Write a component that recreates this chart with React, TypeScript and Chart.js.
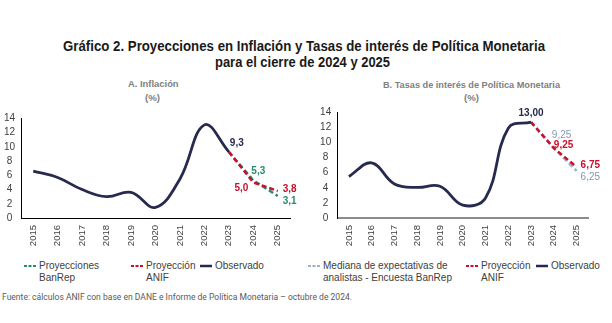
import React, { useEffect, useRef } from 'react';
import { Chart, registerables } from 'chart.js';

Chart.register(...registerables);

// ---------- data ----------
const years = ['2015', '2016', '2017', '2018', '2019', '2020', '2021', '2022', '2023', '2024', '2025'];

const inflObservado = [6.6, 5.7, 4.0, 3.0, 3.6, 1.5, 5.5, 13.1, 9.3, null, null];
const inflBanRep = [null, null, null, null, null, null, null, null, 9.3, 5.3, 3.1];
const inflAnif = [null, null, null, null, null, null, null, null, 9.3, 5.0, 3.8];

const tasaObservado = [5.5, 7.3, 4.5, 4.05, 4.2, 1.7, 2.65, 11.9, 12.7, null, null];
const tasaAnalistas = [null, null, null, null, null, null, null, null, 12.7, 9.25, 6.25];
const tasaAnif = [null, null, null, null, null, null, null, null, 12.7, 9.25, 6.75];
const tasaCierre2023 = 13.0;

const yTicks = [0, 2, 4, 6, 8, 10, 12, 14];

const titleLine1 = 'Gráfico 2. Proyecciones en Inflación y Tasas de interés de Política Monetaria';
const titleLine2 = 'para el cierre de 2024 y 2025';
const subA = 'A. Inflación';
const subB = 'B. Tasas de interés de Política Monetaria';
const unit = '(%)';
const fuente = 'Fuente: cálculos ANIF con base en DANE e Informe de Política Monetaria – octubre de 2024.';

// ---------- style ----------
const NAVY = '#262A4F';
const RED = '#C8102E';
const GREEN = '#2A8A70';
const GREYLINE = '#9DB0C8';
const GREYLBL = '#8497B0';
const FONT = '"Liberation Sans", Arial, sans-serif';

const fmt = (v: number, d: number) => v.toFixed(d).replace('.', ',');

type Lbl = { ds: number; idx: number; text: string; color: string; bold: boolean; align: CanvasTextAlign; dx: number; dy: number };

const labelPlugin = {
  id: 'pointLabels',
  afterDatasetsDraw(chart: any, _a: any, opts: any) {
    const items: Lbl[] = (opts && opts.items) || [];
    const ctx = chart.ctx;
    ctx.save();
    items.forEach((it) => {
      const el = chart.getDatasetMeta(it.ds).data[it.idx];
      if (!el) return;
      ctx.font = `${it.bold ? 'bold ' : ''}10px ${FONT}`;
      ctx.fillStyle = it.color;
      ctx.textAlign = it.align;
      ctx.textBaseline = 'middle';
      ctx.fillText(it.text, el.x + it.dx, el.y + it.dy);
    });
    ctx.restore();
  },
};

function measure(text: string, font: string) {
  const c = document.createElement('canvas').getContext('2d')!;
  c.font = font;
  return c.measureText(text).width;
}

function FitText(props: { text: string; left: number; top: number; width: number; size: number; bold?: boolean; color: string; family?: string }) {
  const family = props.family || FONT;
  const font = `${props.bold ? 'bold ' : ''}${props.size}px ${family}`;
  const w = measure(props.text, font);
  const s = props.width / w;
  return (
    <div
      style={{
        position: 'absolute',
        left: props.left,
        top: props.top,
        width: props.width,
        height: props.size * 1.3,
        lineHeight: `${props.size * 1.3}px`,
        whiteSpace: 'nowrap',
        font,
        color: props.color,
      }}
    >
      <span style={{ display: 'inline-block', width: w, transform: `scaleX(${s})`, transformOrigin: 'left center' }}>{props.text}</span>
    </div>
  );
}

function makeChart(
  canvas: HTMLCanvasElement,
  datasets: any[],
  labels: Lbl[],
  geom: { yw: number; pr: number; pt: number; xh: number; yPad: number },
  xBorder: { color: string; width: number }
) {
  return new Chart(canvas, {
    type: 'line',
    data: { labels: years, datasets },
    plugins: [labelPlugin as any],
    options: {
      animation: false,
      responsive: false,
      maintainAspectRatio: false,
      layout: { autoPadding: false, padding: { left: 0, right: geom.pr, top: geom.pt, bottom: 0 } } as any,
      plugins: { legend: { display: false }, tooltip: { enabled: false }, pointLabels: { items: labels } } as any,
      elements: { point: { radius: 0 } },
      scales: {
        x: {
          type: 'category',
          offset: true,
          grid: { display: false, drawTicks: false },
          border: { display: true, color: xBorder.color, width: xBorder.width },
          ticks: { autoSkip: false, minRotation: 90, maxRotation: 90, padding: 7, color: '#404040', font: { family: FONT, size: 9.5 } },
          afterFit: (s: any) => { s.height = geom.xh; },
        },
        y: {
          min: 0,
          max: 14,
          afterBuildTicks: (s: any) => { s.ticks = yTicks.map((v) => ({ value: v })); },
          grid: { display: false, drawTicks: false },
          border: { display: true, color: '#000', width: 1 },
          ticks: { autoSkip: false, crossAlign: 'center', padding: geom.yPad, color: '#404040', font: { family: FONT, size: 10 } },
          afterFit: (s: any) => { s.width = geom.yw; },
        },
      },
    } as any,
  });
}

function line(data: any[], color: string, dashed: boolean, order: number) {
  return {
    data,
    borderColor: color,
    borderWidth: dashed ? 2.5 : 2.8,
    borderDash: dashed ? [5, 3] : [],
    tension: dashed ? 0 : 0.4,
    spanGaps: false,
    fill: false,
    order,
  };
}

function Swatch({ color, dashed }: { color: string; dashed: boolean }) {
  return (
    <svg width={12} height={4} style={{ position: 'absolute', left: 0, top: 4 }}>
      <line x1={0} y1={2} x2={12} y2={2} stroke={color} strokeWidth={dashed ? 2 : 2.5} strokeDasharray={dashed ? '3 1.5' : undefined} />
    </svg>
  );
}

type LegendItem = { lines: string[]; color: string; dashed: boolean; x: number };

const legendA: LegendItem[] = [
  { lines: ['Proyecciones', 'BanRep'], color: GREEN, dashed: true, x: 24 },
  { lines: ['Proyección', 'ANIF'], color: RED, dashed: true, x: 131 },
  { lines: ['Observado'], color: NAVY, dashed: false, x: 200 },
];
const legendB: LegendItem[] = [
  { lines: ['Mediana de expectativas de', 'analistas - Encuesta BanRep'], color: GREYLINE, dashed: true, x: 308 },
  { lines: ['Proyección', 'ANIF'], color: RED, dashed: true, x: 466 },
  { lines: ['Observado'], color: NAVY, dashed: false, x: 536 },
];

function Legend({ items, top }: { items: LegendItem[]; top: number }) {
  return (
    <>
      {items.map((it, i) => (
        <div key={i} style={{ position: 'absolute', left: it.x, top, height: 26, whiteSpace: 'nowrap' }}>
          <Swatch color={it.color} dashed={it.dashed} />
          <div style={{ marginLeft: 15, font: `10px ${FONT}`, lineHeight: '12.5px', color: '#404040' }}>
            {it.lines.map((l, j) => (
              <div key={j}>{l}</div>
            ))}
          </div>
        </div>
      ))}
    </>
  );
}

export default function App() {
  const refA = useRef<HTMLCanvasElement>(null);
  const refB = useRef<HTMLCanvasElement>(null);

  useEffect(() => {
    const labelsA: Lbl[] = [
      { ds: 2, idx: 8, text: fmt(inflObservado[8] as number, 1), color: NAVY, bold: true, align: 'left', dx: 1, dy: -9 },
      { ds: 0, idx: 9, text: fmt(inflBanRep[9] as number, 1), color: GREEN, bold: true, align: 'left', dx: -2, dy: -9 },
      { ds: 1, idx: 9, text: fmt(inflAnif[9] as number, 1), color: RED, bold: true, align: 'right', dx: -5, dy: 5.5 },
      { ds: 1, idx: 10, text: fmt(inflAnif[10] as number, 1), color: RED, bold: true, align: 'left', dx: 5, dy: -1.5 },
      { ds: 0, idx: 10, text: fmt(inflBanRep[10] as number, 1), color: GREEN, bold: true, align: 'left', dx: 5, dy: 5 },
    ];
    const chartA = makeChart(
      refA.current!,
      [line(inflBanRep, GREEN, true, 2), line(inflAnif, RED, true, 1), line(inflObservado, NAVY, false, 0)],
      labelsA,
      { yw: 21, pr: 10, pt: 18.5, xh: 42, yPad: 6 },
      { color: '#000', width: 1 }
    );

    const labelsB: Lbl[] = [
      { ds: 2, idx: 8, text: fmt(tasaCierre2023, 2), color: NAVY, bold: true, align: 'center', dx: 0, dy: -8.5 },
      { ds: 0, idx: 9, text: fmt(tasaAnalistas[9] as number, 2), color: GREYLBL, bold: false, align: 'left', dx: -2, dy: -13.3 },
      { ds: 1, idx: 9, text: fmt(tasaAnif[9] as number, 2), color: RED, bold: true, align: 'left', dx: 0, dy: -3.3 },
      { ds: 1, idx: 10, text: fmt(tasaAnif[10] as number, 2), color: RED, bold: true, align: 'left', dx: 4, dy: -1.6 },
      { ds: 0, idx: 10, text: fmt(tasaAnalistas[10] as number, 2), color: GREYLBL, bold: false, align: 'left', dx: 4, dy: 6.3 },
    ];
    const chartB = makeChart(
      refB.current!,
      [line(tasaAnalistas, GREYLINE, true, 2), line(tasaAnif, RED, true, 1), line(tasaObservado, NAVY, false, 0)],
      labelsB,
      { yw: 37.5, pr: 24, pt: 12, xh: 42, yPad: 6.3 },
      { color: '#8C8C8C', width: 2 }
    );
    return () => {
      chartA.destroy();
      chartB.destroy();
    };
  }, []);

  return (
    <div style={{ position: 'absolute', left: 0, top: 0, width: 612, height: 323, background: '#fff', overflow: 'hidden' }}>
      <FitText text={titleLine1} left={63} top={47.3 - 9.1} width={482} size={14} bold color="#1a1a1a" />
      <FitText text={titleLine2} left={215} top={62.8 - 9.1} width={175} size={14} bold color="#1a1a1a" />
      <FitText text={subA} left={127.7} top={84.3 - 6.2} width={50.6} size={9.5} bold color="#808080" />
      <FitText text={unit} left={145} top={98.3 - 6.2} width={15} size={9.5} bold color="#808080" />
      <FitText text={subB} left={382.7} top={85 - 6.2} width={177} size={9.5} bold color="#808080" />
      <FitText text={unit} left={464} top={98.3 - 6.2} width={15} size={9.5} bold color="#808080" />
      <canvas ref={refA} width={300} height={160} style={{ position: 'absolute', left: 0, top: 100, width: 300, height: 160 }} />
      <canvas ref={refB} width={312} height={160} style={{ position: 'absolute', left: 300, top: 100, width: 312, height: 160 }} />
      <Legend items={legendA} top={259.5} />
      <Legend items={legendB} top={259.5} />
      <FitText text={fuente} left={2} top={298 - 5.9} width={350} size={9} color="#5a5a5a" family='Roboto, "Liberation Sans", sans-serif' />
    </div>
  );
}
